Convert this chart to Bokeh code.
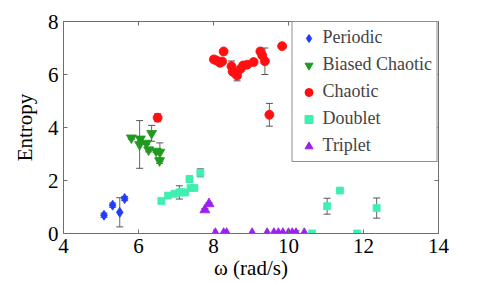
import math
from bokeh.plotting import figure
from bokeh.models import (Range1d, Whisker, ColumnDataSource, Legend,
                          LegendItem, FixedTicker, TeeHead)
from bokeh.embed import file_html
from bokeh.resources import INLINE

# ---- data ----
periodic_x = [5.08, 5.31, 5.50, 5.63]
periodic_y = [0.69, 1.07, 0.80, 1.32]
periodic_e = [0.08, 0.08, 0.55, 0.08]

biased_x = [5.81, 6.05, 6.35, 6.03, 6.21, 6.27, 6.47, 6.57, 6.56]
biased_y = [3.61, 3.57, 3.78, 3.36, 3.41, 3.16, 3.11, 3.07, 2.75]
biased_e = [0.05, 0.05, 0.30, 0.90, 0.05, 0.08, 0.05, 0.35, 0.10]

chaotic_x = [6.51, 8.01, 8.08, 8.17, 8.23, 8.27, 8.48, 8.51, 8.56, 8.63, 8.72,
             8.79, 8.90, 9.07, 9.25, 9.30, 9.37, 9.49, 9.83]
chaotic_y = [4.37, 6.57, 6.53, 6.44, 6.49, 6.87, 6.31, 6.11, 6.06, 5.96, 6.21,
             6.34, 6.37, 6.47, 6.87, 6.72, 6.50, 4.48, 7.07]
chaotic_e = [0.15, 0.08, 0.08, 0.08, 0.08, 0.05, 0.20, 0.10, 0.10, 0.20, 0.08,
             0.08, 0.05, 0.05, 0.08, 0.08, 0.50, 0.43, 0.05]

doublet_x = [6.61, 6.79, 6.96, 7.09, 7.15, 7.25, 7.36, 7.39, 7.49, 7.65,
             10.63, 11.03, 11.37, 11.83, 12.35]
doublet_y = [1.23, 1.43, 1.50, 1.55, 1.56, 1.55, 2.05, 1.72, 1.72, 2.29,
             0.00, 1.03, 1.62, 0.00, 0.96]
doublet_e = [0.08, 0.03, 0.06, 0.25, 0.10, 0.06, 0.12, 0.08, 0.08, 0.15,
             0.00, 0.30, 0.04, 0.00, 0.38]

triplet_x = [7.77, 7.88, 8.05, 8.27, 8.35, 9.03, 9.43, 9.61, 9.73, 9.85,
             10.00, 10.10, 10.20, 10.42]
triplet_y = [0.89, 1.12, 0, 0, 0, 0, 0, 0, 0, 0, 0, 0, 0, 0]
triplet_e = [0.05, 0.05, 0, 0, 0, 0, 0, 0, 0, 0, 0, 0, 0.10, 0]

x_ticks = [4, 6, 8, 10, 12, 14]
y_ticks = [0, 2, 4, 6, 8]
X_MIN, X_MAX, Y_MIN, Y_MAX = 4, 14, 0, 8

FONT = "Liberation Serif"
AX = "#6e6e6e"

p = figure(width=482, height=283, output_backend="svg", toolbar_location=None,
           x_range=Range1d(X_MIN, X_MAX), y_range=Range1d(Y_MIN, Y_MAX),
           min_border_left=63, min_border_right=44, min_border_top=21,
           min_border_bottom=50)
p.xgrid.visible = False
p.ygrid.visible = False
p.outline_line_color = AX
p.background_fill_color = "white"

for ax in (p.xaxis[0], p.yaxis[0]):
    ax.major_tick_in = 4
    ax.major_tick_out = 0
    ax.minor_tick_line_color = None
    ax.axis_line_color = AX
    ax.major_tick_line_color = AX
    ax.major_label_text_font = FONT
    ax.major_label_text_font_size = "21px"
    ax.major_label_text_color = "black"
    ax.axis_label_text_font = FONT
    ax.axis_label_text_font_size = "21px"
    ax.axis_label_text_font_style = "normal"
    ax.axis_label_text_color = "black"
p.xaxis.ticker = FixedTicker(ticks=x_ticks)
p.yaxis.ticker = FixedTicker(ticks=y_ticks)
p.xaxis.axis_label = "ω (rad/s)"
p.yaxis.axis_label = "Entropy"
p.xaxis.major_label_standoff = 5
p.yaxis.major_label_standoff = 5
p.xaxis.axis_label_standoff = 0
p.yaxis.axis_label_standoff = 8

# inward ticks on top and right edges of the box
p.ray(x=x_ticks, y=[Y_MAX] * len(x_ticks), length=4, length_units="screen",
      angle=-math.pi / 2, line_color=AX, line_width=1)
p.ray(x=[X_MAX] * len(y_ticks), y=y_ticks, length=4, length_units="screen",
      angle=math.pi, line_color=AX, line_width=1)

series = [
    ("Periodic", periodic_x, periodic_y, periodic_e, "diamond", "#1f3cff", 10),
    ("Biased Chaotic", biased_x, biased_y, biased_e, "inverted_triangle", "#1f9a1f", 10),
    ("Chaotic", chaotic_x, chaotic_y, chaotic_e, "circle", "#ff1010", 9),
    ("Doublet", doublet_x, doublet_y, doublet_e, "square", "#3ff0b0", 7),
    ("Triplet", triplet_x, triplet_y, triplet_e, "triangle", "#9b1ff0", 10),
]

items = []
for name, xs, ys, es, marker, color, size in series:
    src = ColumnDataSource(dict(x=xs, y=ys,
                                lo=[a - b for a, b in zip(ys, es)],
                                hi=[a + b for a, b in zip(ys, es)]))
    p.scatter("x", "y", source=src, marker=marker, size=size, fill_color=color,
              line_color=color, line_alpha=0.8)
    w = Whisker(base="x", lower="lo", upper="hi", source=src,
                line_color="#666666", line_width=1,
                upper_head=TeeHead(size=7, line_color="#555555", line_width=1),
                lower_head=TeeHead(size=7, line_color="#555555", line_width=1))
    p.add_layout(w)
    leg_src = ColumnDataSource(dict(x=[float("nan")], y=[float("nan")]))
    r_leg = p.scatter("x", "y", source=leg_src, marker=marker, size=5,
                      fill_color=color, line_color=color)
    items.append(LegendItem(label=name, renderers=[r_leg]))

legend = Legend(items=items, location="top_right", margin=0, padding=5,
                spacing=6, glyph_width=22, glyph_height=20, label_height=20,
                label_standoff=3, label_text_font=FONT, label_text_font_size="18px",
                border_line_color="#222222", border_line_width=1,
                background_fill_alpha=1.0)
p.add_layout(legend)

open("out.html", "w").write(file_html(p, INLINE))
